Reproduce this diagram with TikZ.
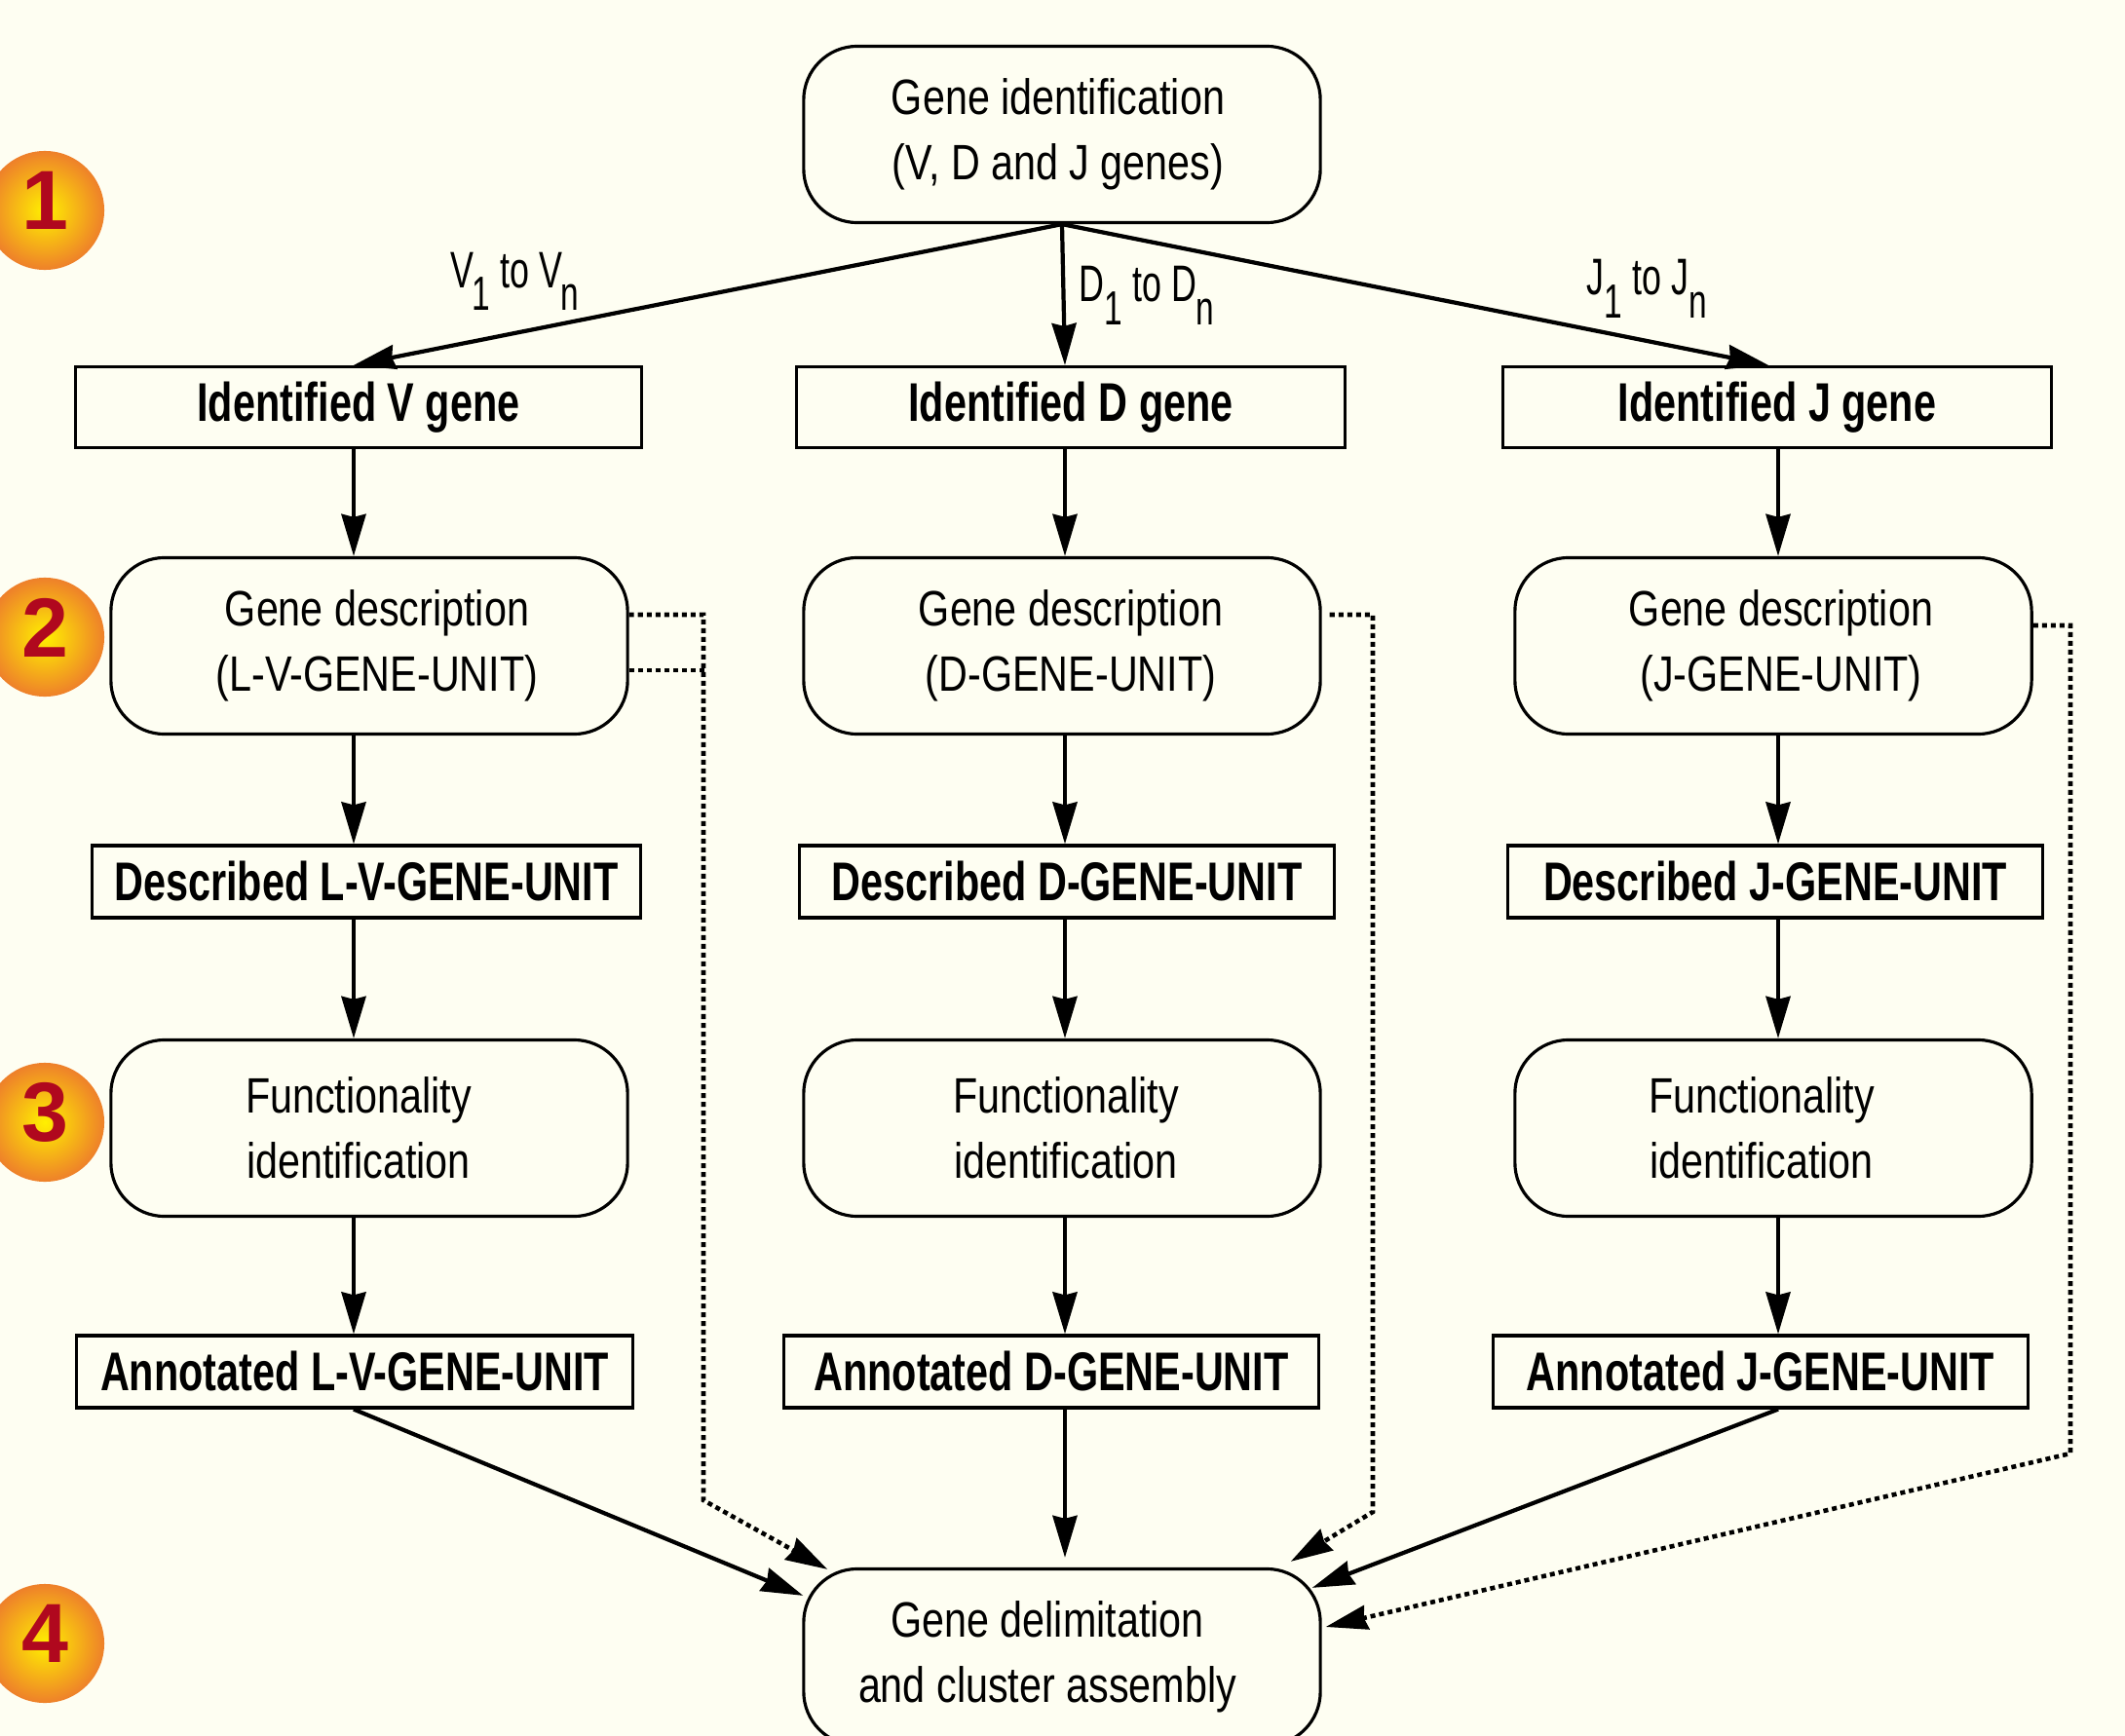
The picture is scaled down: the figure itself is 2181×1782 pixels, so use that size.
\documentclass[tikz,border=0pt]{standalone}
\usepackage{fontspec}
\usetikzlibrary{arrows.meta,calc}
\newfontfamily\narrowreg{Liberation Sans}[FakeStretch=0.81]
\newfontfamily\narrowlab{Liberation Sans}[FakeStretch=0.68]
\newfontfamily\narrowbold{Liberation Sans}[FakeStretch=0.74]
\newfontfamily\numfont{Liberation Sans}
\definecolor{paper}{RGB}{254,254,242}
\definecolor{numred}{RGB}{176,8,30}
\definecolor{ballyellow}{RGB}{255,240,0}
\definecolor{ballorange}{RGB}{238,128,42}
% lowered index for the gene ranges
\newcommand\lsub[1]{\raisebox{-0.23cm}{\fontsize{14}{14}\selectfont #1}}
% padding that moves a centred line sideways
\newcommand\pad[1]{\hspace*{#1}}

\begin{document}
\begin{tikzpicture}[x=0.01cm,y=-0.01cm,
  roundbox/.style={draw, line width=0.9pt, rounded corners=0.55cm,
    minimum width=5.3cm, minimum height=1.81cm, align=center, inner sep=0pt,
    font=\fontsize{14.5}{19}\selectfont\narrowreg},
  rectbox/.style={draw, line width=0.9pt, inner sep=0pt, minimum height=0.74cm,
    font=\fontsize{15.9}{19}\selectfont\narrowbold\bfseries},
  tip/.style={-{Stealth[length=0.43cm,width=0.25cm,inset=0.03cm]}},
  flow/.style={tip, line width=1.2pt},
  dotline/.style={line width=1.3pt, dash pattern=on 0.05cm off 0.04cm},
  feed/.style={dotline, tip},
  lab/.style={inner sep=0pt, font=\fontsize{15}{17}\selectfont\narrowlab},
  ball/.style={circle, minimum size=1.22cm, inner sep=0pt, shading=radial,
    inner color=ballyellow, outer color=ballorange},
  balltext/.style={inner sep=0pt, text=numred, font=\fontsize{24.5}{24.5}\selectfont\numfont\bfseries}
]
\useasboundingbox (0,0) rectangle (2181,1782);
\clip (0,0) rectangle (2181,1782);
\fill[paper] (0,0) rectangle (2181,1782);

% step markers
\foreach \n/\yy in {1/216, 2/654, 3/1152, 4/1687} {
  \node[ball] (b\n) at (46,\yy) {};
  \node[balltext, yshift=0.1cm] (b\n t) at (b\n) {\n};
}

% column axes
\coordinate (cv) at (363,0);
\coordinate (cd) at (1093,0);
\coordinate (cj) at (1825,0);

% top node
\node[roundbox] (top) at (1090,138) {Gene identification\pad{0.08cm}\\(V, D and J genes)\pad{0.08cm}};

% identified genes
\node[rectbox, minimum width=5.81cm, minimum height=0.83cm] (iv) at (368,418) {Identified V gene};
\node[rectbox, minimum width=5.62cm, minimum height=0.83cm] (id) at (1099,418) {Identified D gene};
\node[rectbox, minimum width=5.63cm, minimum height=0.83cm] (ij) at (1824,418) {Identified J gene};

% description
\node[roundbox] (dv) at (379,663) {\pad{0.16cm}Gene description\\\pad{0.16cm}(L-V-GENE-UNIT)};
\node[roundbox] (dd) at (1090,663) {\pad{0.18cm}Gene description\\\pad{0.18cm}(D-GENE-UNIT)};
\node[roundbox] (dj) at (1820,663) {\pad{0.16cm}Gene description\\\pad{0.16cm}(J-GENE-UNIT)};

% described units
\node[rectbox, minimum width=5.62cm] (sv) at (376,905) {Described L-V-GENE-UNIT};
\node[rectbox, minimum width=5.48cm] (sd) at (1095,905) {Described D-GENE-UNIT};
\node[rectbox, minimum width=5.48cm] (sj) at (1822,905) {Described J-GENE-UNIT};

% functionality
\node[roundbox] (fv) at (379,1158) {Functionality\pad{0.22cm}\\identification\pad{0.22cm}};
\node[roundbox] (fd) at (1090,1158) {\pad{0.08cm}Functionality\\\pad{0.08cm}identification};
\node[roundbox] (fj) at (1820,1158) {Functionality\pad{0.24cm}\\identification\pad{0.24cm}};

% annotated units
\node[rectbox, minimum width=5.71cm] (av) at (364,1408) {Annotated L-V-GENE-UNIT};
\node[rectbox, minimum width=5.48cm] (ad) at (1079,1408) {Annotated D-GENE-UNIT};
\node[rectbox, minimum width=5.49cm] (aj) at (1807,1408) {Annotated J-GENE-UNIT};

% final step
\node[roundbox] (bot) at (1090,1701) {Gene delimitation\pad{0.3cm}\\and cluster assembly\pad{0.3cm}};

% branching from the top node
\draw[flow] (top.south) -- (iv.north -| cv);
\draw[flow] (top.south) -- (id.north -| cd);
\draw[flow] (top.south) -- ($(ij.north)+(-9,0)$);
\node[lab, anchor=base west] (lv) at (462,295) {V\kern-0.02cm\lsub{1} to V\kern-0.02cm\lsub{n}};
\node[lab, anchor=base west] (ld) at (1107,310) {D\lsub{1} to D\lsub{n}};
\node[lab, anchor=base west] (lj) at (1628,303) {J\lsub{1} to J\lsub{n}};

% vertical chains
\foreach \a/\b/\c in {iv/dv/cv, dv/sv/cv, sv/fv/cv, fv/av/cv,
                      id/dd/cd, dd/sd/cd, sd/fd/cd, fd/ad/cd,
                      ij/dj/cj, dj/sj/cj, sj/fj/cj, fj/aj/cj} {
  \draw[flow] (\a.south -| \c) -- (\b.north -| \c);
}

% annotated units into the final step
\draw[flow] (av.south -| cv) -- ($(bot.north west)+(1,29)$);
\draw[flow] (ad.south -| cd) -- ($(bot.north -| cd)+(0,-10)$);
\draw[flow] (aj.south -| cj) -- ($(bot.north east)+(-10,21)$);

% direct routes from the gene descriptions
\coordinate (vbend) at (722,1540);
\coordinate (dbend) at (1409,1552);
\coordinate (jbend) at (2125,1492);
\draw[feed] ($(dv.east)+(0,-32)$) -| (vbend) -- ($(bot.north west)+(26,2)$);
\draw[dotline] ($(dv.east)+(0,25)$) -- ($(dv.east)+(78,25)$);
\draw[feed] ($(dd.east)+(8,-32)$) -| (dbend) -- ($(bot.north east)+(-32,-6)$);
\draw[feed] ($(dj.east)+(0,-21)$) -| (jbend) -- ($(bot.east)+(4,-31)$);
\end{tikzpicture}
\end{document}
